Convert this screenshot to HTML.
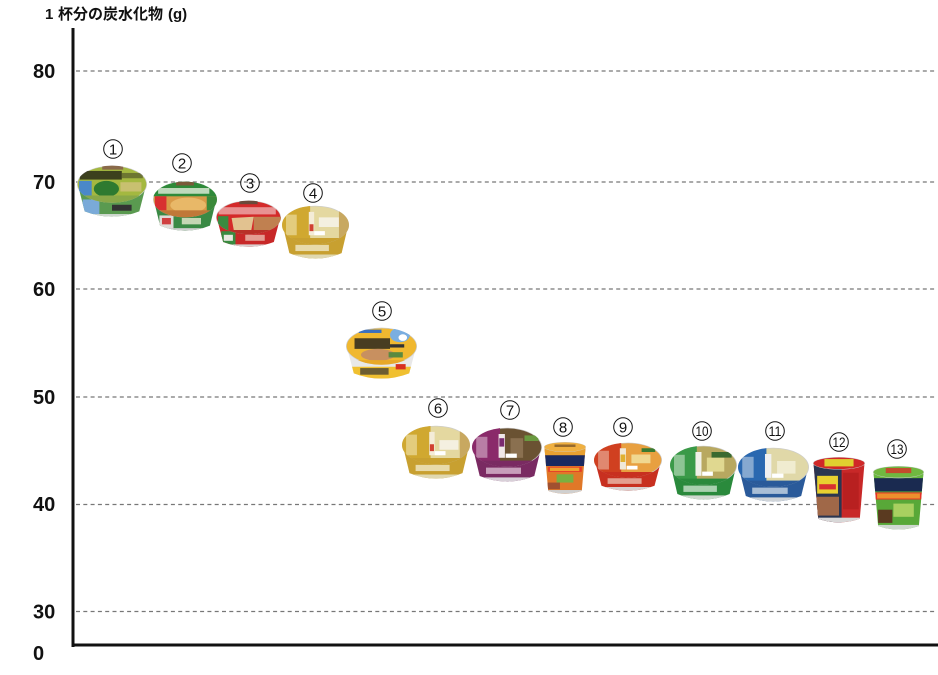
<!DOCTYPE html>
<html><head><meta charset="utf-8"><style>
html,body{margin:0;padding:0;background:#fff;}
svg{display:block;}
.t{font-family:"Liberation Sans","Noto Sans CJK JP",sans-serif;}
</style></head><body>
<svg width="938" height="675" viewBox="0 0 938 675" xmlns="http://www.w3.org/2000/svg">
<defs>
<clipPath id="lid" clipPathUnits="userSpaceOnUse"><ellipse cx="50" cy="29" rx="50" ry="28"/></clipPath>
<clipPath id="body" clipPathUnits="userSpaceOnUse"><path d="M1,29 L11,70 Q50,86 89,70 L99,29 Z"/></clipPath>
<clipPath id="tbody" clipPathUnits="userSpaceOnUse"><path d="M1,12 L10,118 Q50,132 90,118 L99,12 Z"/></clipPath>
<clipPath id="tlid" clipPathUnits="userSpaceOnUse"><ellipse cx="50" cy="12" rx="50" ry="12"/></clipPath>
</defs>

<!-- title -->
<text class="t" x="45" y="19" font-size="15" font-weight="bold" fill="#111">1</text>
<text class="t" x="58" y="19" font-size="15" font-weight="bold" fill="#111" textLength="105" lengthAdjust="spacing">杯分の炭水化物</text>
<text class="t" x="168" y="19" font-size="15" font-weight="bold" fill="#111">(g)</text>

<!-- gridlines -->
<g stroke="#777" stroke-width="1.3" stroke-dasharray="4 3.3">
<line x1="76" y1="71" x2="936" y2="71"/>
<line x1="76" y1="182" x2="936" y2="182"/>
<line x1="76" y1="289" x2="936" y2="289"/>
<line x1="76" y1="397" x2="936" y2="397"/>
<line x1="76" y1="504.5" x2="936" y2="504.5"/>
<line x1="76" y1="611.5" x2="936" y2="611.5"/>
</g>

<!-- y labels -->
<g class="t" font-size="20" font-weight="bold" fill="#111">
<text x="33" y="78">80</text>
<text x="33" y="189">70</text>
<text x="33" y="296">60</text>
<text x="33" y="404">50</text>
<text x="33" y="511">40</text>
<text x="33" y="618.5">30</text>
<text x="33" y="660">0</text>
</g>

<!-- axes -->
<line x1="73" y1="28" x2="73" y2="647" stroke="#111" stroke-width="3"/>
<line x1="72" y1="645" x2="938" y2="645" stroke="#111" stroke-width="3"/>

<!-- circled numbers -->
<g fill="none" stroke="#111" stroke-width="1">
<circle cx="113" cy="149" r="9.3"/>
<circle cx="182" cy="163" r="9.3"/>
<circle cx="250" cy="183" r="9.3"/>
<circle cx="313" cy="193" r="9.3"/>
<circle cx="382" cy="311" r="9.3"/>
<circle cx="438" cy="408" r="9.3"/>
<circle cx="510" cy="410" r="9.3"/>
<circle cx="563" cy="427" r="9.3"/>
<circle cx="623" cy="427" r="9.3"/>
<circle cx="702" cy="431" r="9.3"/>
<circle cx="775" cy="431" r="9.3"/>
<circle cx="839" cy="442" r="9.3"/>
<circle cx="897" cy="449" r="9.3"/>
</g>
<g class="t" font-size="15" fill="#111" text-anchor="middle">
<text x="113" y="154.5">1</text>
<text x="182" y="168.5">2</text>
<text x="250" y="188.5">3</text>
<text x="313" y="198.5">4</text>
<text x="382" y="316.5">5</text>
<text x="438" y="413.5">6</text>
<text x="510" y="415.5">7</text>
<text x="563" y="432.5">8</text>
<text x="623" y="432.5">9</text>
</g>
<g class="t" font-size="14" fill="#111">
<text x="695.5" y="436" textLength="13" lengthAdjust="spacingAndGlyphs">10</text>
<text x="768.5" y="436" textLength="13" lengthAdjust="spacingAndGlyphs">11</text>
<text x="832.5" y="447" textLength="13" lengthAdjust="spacingAndGlyphs">12</text>
<text x="890.5" y="454" textLength="13" lengthAdjust="spacingAndGlyphs">13</text>
</g>

<!-- Cup 1: green wakame -->
<g transform="translate(77,165) scale(0.70,0.6625)">
<path d="M1,29 L11,70 Q50,86 89,70 L99,29 Z" fill="#5a9a50"/>
<g clip-path="url(#body)">
<rect x="8" y="52" width="24" height="30" fill="#7aaad8"/>
<rect x="50" y="60" width="28" height="9" fill="#333"/>
<rect x="0" y="74" width="100" height="8" fill="#d0d8d0"/>
</g>
<ellipse cx="50" cy="29" rx="50" ry="28" fill="#ccc"/>
<ellipse cx="50" cy="29" rx="49" ry="27" fill="#a4b840"/>
<g clip-path="url(#lid)">
<rect x="36" y="0" width="30" height="7" fill="#8a6a4a"/>
<rect x="4" y="9" width="60" height="13" fill="#2a2a18" opacity="0.85"/>
<rect x="64" y="12" width="30" height="8" fill="#4a4a28" opacity="0.6"/>
<rect x="3" y="24" width="18" height="26" fill="#4a88c8"/>
<ellipse cx="42" cy="36" rx="18" ry="12" fill="#2e7a30"/>
<rect x="62" y="26" width="30" height="14" fill="#c8c070"/>
<rect x="0" y="46" width="100" height="12" fill="#8aa848"/>
</g>
</g>

<!-- Cup 2: tempura soba -->
<g transform="translate(153,181) scale(0.64,0.6375)">
<path d="M1,29 L11,70 Q50,86 89,70 L99,29 Z" fill="#3a8a45"/>
<g clip-path="url(#body)">
<rect x="10" y="54" width="22" height="28" fill="#e0dcd8"/>
<rect x="14" y="58" width="14" height="10" fill="#d04040"/>
<rect x="45" y="58" width="30" height="10" fill="#e8e8d0" opacity="0.8"/>
<rect x="0" y="74" width="100" height="8" fill="#d0d0d0"/>
</g>
<ellipse cx="50" cy="29" rx="50" ry="28" fill="#ccc"/>
<ellipse cx="50" cy="29" rx="49" ry="27" fill="#d89a48"/>
<g clip-path="url(#lid)">
<rect x="0" y="0" width="100" height="24" fill="#2f8a3a"/>
<rect x="36" y="1" width="28" height="6" fill="#7a5a3a"/>
<rect x="8" y="11" width="80" height="9" fill="#f0f4e8" opacity="0.75"/>
<rect x="3" y="24" width="18" height="22" fill="#d83030"/>
<ellipse cx="55" cy="38" rx="28" ry="12" fill="#e8b868"/>
<rect x="84" y="24" width="16" height="30" fill="#3a8a3a"/>
<rect x="0" y="46" width="100" height="12" fill="#c07838"/>
</g>
</g>

<!-- Cup 3: kitsune udon -->
<g transform="translate(216,200) scale(0.65,0.6)">
<path d="M1,29 L11,70 Q50,86 89,70 L99,29 Z" fill="#c82828"/>
<g clip-path="url(#body)">
<rect x="8" y="52" width="22" height="30" fill="#3a8a40"/>
<rect x="12" y="58" width="14" height="10" fill="#e8e8e0"/>
<rect x="45" y="58" width="30" height="10" fill="#f0d0c0" opacity="0.7"/>
<rect x="0" y="74" width="100" height="8" fill="#d8d0d0"/>
</g>
<ellipse cx="50" cy="29" rx="50" ry="28" fill="#ccc"/>
<ellipse cx="50" cy="29" rx="49" ry="27" fill="#d42a2a"/>
<g clip-path="url(#lid)">
<rect x="36" y="0" width="28" height="7" fill="#6a4a3a"/>
<rect x="4" y="12" width="88" height="12" fill="#f8e8e8" opacity="0.55"/>
<rect x="3" y="27" width="16" height="25" fill="#3a8a40"/>
<path d="M24,30 L58,28 L54,52 L28,54 Z" fill="#e2c290"/>
<rect x="58" y="28" width="42" height="26" fill="#c08050"/>
<rect x="0" y="50" width="100" height="10" fill="#b83028"/>
</g>
</g>

<!-- Cup 4: gold -->
<g transform="translate(282,205) scale(0.67,0.6875)">
<path d="M1,29 L11,70 Q50,86 89,70 L99,29 Z" fill="#c8a030"/>
<g clip-path="url(#body)">
<rect x="20" y="58" width="50" height="9" fill="#f0e8c8" opacity="0.8"/>
<rect x="0" y="72" width="100" height="10" fill="#e0d8b0"/>
</g>
<ellipse cx="50" cy="29" rx="50" ry="28" fill="#ccc"/>
<ellipse cx="50" cy="29" rx="49" ry="27" fill="#e4d8a0"/>
<g clip-path="url(#lid)">
<rect x="0" y="0" width="42" height="60" fill="#d0a830"/>
<rect x="6" y="14" width="16" height="30" fill="#f0e4b0" opacity="0.6"/>
<rect x="40" y="10" width="8" height="34" fill="#f4ecd8"/>
<rect x="41" y="28" width="6" height="10" fill="#d04030"/>
<rect x="55" y="18" width="30" height="14" fill="#f4f0e0"/>
<rect x="48" y="38" width="16" height="6" fill="#fff"/>
<rect x="85" y="4" width="15" height="50" fill="#c8a860"/>
<rect x="0" y="48" width="100" height="12" fill="#c8a030"/>
</g>
</g>

<!-- Cup 5: okinawa soba -->
<g transform="translate(346,327) scale(0.71,0.6625)">
<path d="M1,29 L11,70 Q50,86 89,70 L99,29 Z" fill="#e8e8e8"/>
<g clip-path="url(#body)">
<rect x="0" y="60" width="100" height="22" fill="#f0c030"/>
<rect x="20" y="62" width="40" height="10" fill="#333" opacity="0.7"/>
<rect x="70" y="56" width="14" height="8" fill="#d83020"/>
</g>
<ellipse cx="50" cy="29" rx="50" ry="28" fill="#ccc"/>
<ellipse cx="50" cy="29" rx="49" ry="27" fill="#f0b830"/>
<g clip-path="url(#lid)">
<rect x="18" y="4" width="32" height="5" fill="#3a70c0"/>
<ellipse cx="76" cy="12" rx="14" ry="11" fill="#7aaee0"/>
<ellipse cx="80" cy="16" rx="6" ry="5" fill="#fff"/>
<rect x="12" y="17" width="50" height="16" fill="#1e1e1e" opacity="0.8"/>
<rect x="62" y="26" width="20" height="5" fill="#333"/>
<ellipse cx="45" cy="42" rx="24" ry="9" fill="#c89060"/>
<rect x="60" y="38" width="20" height="8" fill="#5a8a40"/>
<rect x="0" y="50" width="100" height="10" fill="#e8a828"/>
</g>
</g>

<!-- Cup 6: gold -->
<g transform="translate(402,425) scale(0.68,0.6875)">
<path d="M1,29 L11,70 Q50,86 89,70 L99,29 Z" fill="#c8a030"/>
<g clip-path="url(#body)">
<rect x="20" y="58" width="50" height="9" fill="#f0e8c8" opacity="0.8"/>
<rect x="0" y="72" width="100" height="10" fill="#e0d8b0"/>
</g>
<ellipse cx="50" cy="29" rx="50" ry="28" fill="#ccc"/>
<ellipse cx="50" cy="29" rx="49" ry="27" fill="#e4d8a0"/>
<g clip-path="url(#lid)">
<rect x="0" y="0" width="42" height="60" fill="#d0a830"/>
<rect x="6" y="14" width="16" height="30" fill="#f0e4b0" opacity="0.6"/>
<rect x="40" y="10" width="8" height="34" fill="#f4ecd8"/>
<rect x="41" y="28" width="6" height="10" fill="#d04030"/>
<rect x="55" y="22" width="28" height="14" fill="#f4f0e0"/>
<rect x="48" y="38" width="16" height="6" fill="#fff"/>
<rect x="85" y="4" width="15" height="50" fill="#c8a860"/>
<rect x="0" y="48" width="100" height="12" fill="#c8a030"/>
</g>
</g>

<!-- Cup 7: purple -->
<g transform="translate(472,427) scale(0.70,0.70)">
<path d="M1,29 L11,70 Q50,86 89,70 L99,29 Z" fill="#7a2a62"/>
<g clip-path="url(#body)">
<rect x="20" y="58" width="50" height="9" fill="#e8d0e0" opacity="0.7"/>
<rect x="0" y="72" width="100" height="10" fill="#d8d0d8"/>
</g>
<ellipse cx="50" cy="29" rx="50" ry="28" fill="#ccc"/>
<ellipse cx="50" cy="29" rx="49" ry="27" fill="#6a5232"/>
<g clip-path="url(#lid)">
<rect x="0" y="0" width="40" height="60" fill="#8a2a6a"/>
<rect x="6" y="14" width="16" height="30" fill="#e8d0e0" opacity="0.5"/>
<rect x="38" y="10" width="9" height="34" fill="#f0e8e8"/>
<rect x="39" y="16" width="7" height="12" fill="#7a2a70"/>
<rect x="55" y="16" width="18" height="28" fill="#8a7050"/>
<rect x="75" y="12" width="20" height="8" fill="#6a9a40"/>
<rect x="48" y="38" width="16" height="6" fill="#fff"/>
<rect x="0" y="48" width="100" height="12" fill="#7a2a62"/>
</g>
</g>

<!-- Cup 8: tall charumera -->
<g transform="translate(544,442) scale(0.42,0.414)">
<path d="M1,12 L10,118 Q50,132 90,118 L99,12 Z" fill="#e07828"/>
<g clip-path="url(#tbody)">
<rect x="0" y="12" width="100" height="20" fill="#e8a030"/>
<rect x="0" y="32" width="100" height="26" fill="#1a2a60"/>
<rect x="10" y="60" width="80" height="12" fill="#e83828"/>
<rect x="14" y="62" width="70" height="8" fill="#f0d030" opacity="0.7"/>
<rect x="30" y="78" width="40" height="20" fill="#7ab040"/>
<rect x="8" y="98" width="30" height="16" fill="#a05030"/>
<rect x="0" y="116" width="100" height="16" fill="#d0d0d0"/>
</g>
<ellipse cx="50" cy="12" rx="50" ry="12" fill="#ccc"/>
<ellipse cx="50" cy="12" rx="49" ry="11" fill="#f0b040"/>
<rect x="25" y="6" width="50" height="6" fill="#5a3a20" opacity="0.6"/>
</g>

<!-- Cup 9: red -->
<g transform="translate(594,442) scale(0.68,0.625)">
<path d="M1,29 L11,70 Q50,86 89,70 L99,29 Z" fill="#c83020"/>
<g clip-path="url(#body)">
<rect x="20" y="58" width="50" height="9" fill="#f0d0c0" opacity="0.7"/>
<rect x="0" y="72" width="100" height="10" fill="#d8d0d0"/>
</g>
<ellipse cx="50" cy="29" rx="50" ry="28" fill="#ccc"/>
<ellipse cx="50" cy="29" rx="49" ry="27" fill="#e8a040"/>
<g clip-path="url(#lid)">
<rect x="0" y="0" width="40" height="60" fill="#d04020"/>
<rect x="6" y="14" width="16" height="30" fill="#f0d0c0" opacity="0.5"/>
<rect x="38" y="10" width="9" height="34" fill="#f0e8d8"/>
<rect x="39" y="20" width="7" height="12" fill="#e0b030"/>
<rect x="55" y="20" width="28" height="14" fill="#f0d890"/>
<rect x="70" y="10" width="20" height="6" fill="#3a7a30"/>
<rect x="48" y="38" width="16" height="6" fill="#fff"/>
<rect x="0" y="48" width="100" height="12" fill="#c83020"/>
</g>
</g>

<!-- Cup 10: green -->
<g transform="translate(670,445) scale(0.67,0.70)">
<path d="M1,29 L11,70 Q50,86 89,70 L99,29 Z" fill="#2a8a3c"/>
<g clip-path="url(#body)">
<rect x="20" y="58" width="50" height="9" fill="#e0f0e0" opacity="0.7"/>
<rect x="0" y="72" width="100" height="10" fill="#d0d8d0"/>
</g>
<ellipse cx="50" cy="29" rx="50" ry="28" fill="#ccc"/>
<ellipse cx="50" cy="29" rx="49" ry="27" fill="#b8a860"/>
<g clip-path="url(#lid)">
<rect x="0" y="0" width="40" height="60" fill="#3a9a48"/>
<rect x="6" y="14" width="16" height="30" fill="#e0f0e0" opacity="0.5"/>
<rect x="38" y="10" width="9" height="34" fill="#f0f0e8"/>
<rect x="55" y="18" width="26" height="20" fill="#e0d890"/>
<rect x="62" y="10" width="30" height="8" fill="#3a6a30"/>
<rect x="48" y="38" width="16" height="6" fill="#fff"/>
<rect x="0" y="48" width="100" height="12" fill="#2a8a3c"/>
</g>
</g>

<!-- Cup 11: blue -->
<g transform="translate(738,447) scale(0.71,0.70)">
<path d="M1,29 L11,70 Q50,86 89,70 L99,29 Z" fill="#2a5a9a"/>
<g clip-path="url(#body)">
<rect x="20" y="58" width="50" height="9" fill="#e0e8f0" opacity="0.7"/>
<rect x="0" y="72" width="100" height="10" fill="#d0d4d8"/>
</g>
<ellipse cx="50" cy="29" rx="50" ry="28" fill="#ccc"/>
<ellipse cx="50" cy="29" rx="49" ry="27" fill="#e0d8a8"/>
<g clip-path="url(#lid)">
<rect x="0" y="0" width="40" height="60" fill="#2a68b0"/>
<rect x="6" y="14" width="16" height="30" fill="#e0e8f0" opacity="0.5"/>
<rect x="38" y="10" width="9" height="34" fill="#f0f0f0"/>
<rect x="55" y="20" width="26" height="18" fill="#f0ecd0"/>
<rect x="48" y="38" width="16" height="6" fill="#fff"/>
<rect x="0" y="48" width="100" height="12" fill="#2a5a9a"/>
</g>
</g>

<!-- Cup 12: tall red -->
<g transform="translate(813,457) scale(0.52,0.523)">
<path d="M1,12 L10,118 Q50,132 90,118 L99,12 Z" fill="#c82828"/>
<g clip-path="url(#tbody)">
<rect x="0" y="12" width="55" height="120" fill="#2a3550"/>
<rect x="8" y="36" width="40" height="34" fill="#e8d030"/>
<rect x="12" y="52" width="32" height="10" fill="#d83030"/>
<rect x="4" y="76" width="46" height="36" fill="#a06848"/>
<rect x="58" y="30" width="30" height="70" fill="#b82020"/>
<rect x="0" y="116" width="100" height="16" fill="#d8d8d8"/>
</g>
<ellipse cx="50" cy="12" rx="50" ry="12" fill="#ccc"/>
<ellipse cx="50" cy="12" rx="49" ry="11" fill="#d02828"/>
<rect x="22" y="4" width="56" height="14" fill="#e0d030"/>
</g>

<!-- Cup 13: tall green -->
<g transform="translate(873,466) scale(0.51,0.508)">
<path d="M1,12 L10,118 Q50,132 90,118 L99,12 Z" fill="#58a838"/>
<g clip-path="url(#tbody)">
<rect x="0" y="12" width="100" height="12" fill="#6ab840"/>
<rect x="0" y="24" width="100" height="26" fill="#1a2a50"/>
<rect x="4" y="52" width="92" height="14" fill="#e83028"/>
<rect x="8" y="54" width="84" height="10" fill="#f0d030" opacity="0.6"/>
<rect x="40" y="74" width="40" height="26" fill="#a8d060"/>
<rect x="10" y="86" width="28" height="26" fill="#5a3a20"/>
<rect x="0" y="116" width="100" height="16" fill="#d0d8d0"/>
</g>
<ellipse cx="50" cy="12" rx="50" ry="12" fill="#ccc"/>
<ellipse cx="50" cy="12" rx="49" ry="11" fill="#70b840"/>
<rect x="25" y="4" width="50" height="10" fill="#d83028" opacity="0.8"/>
</g>

</svg>
</body></html>
